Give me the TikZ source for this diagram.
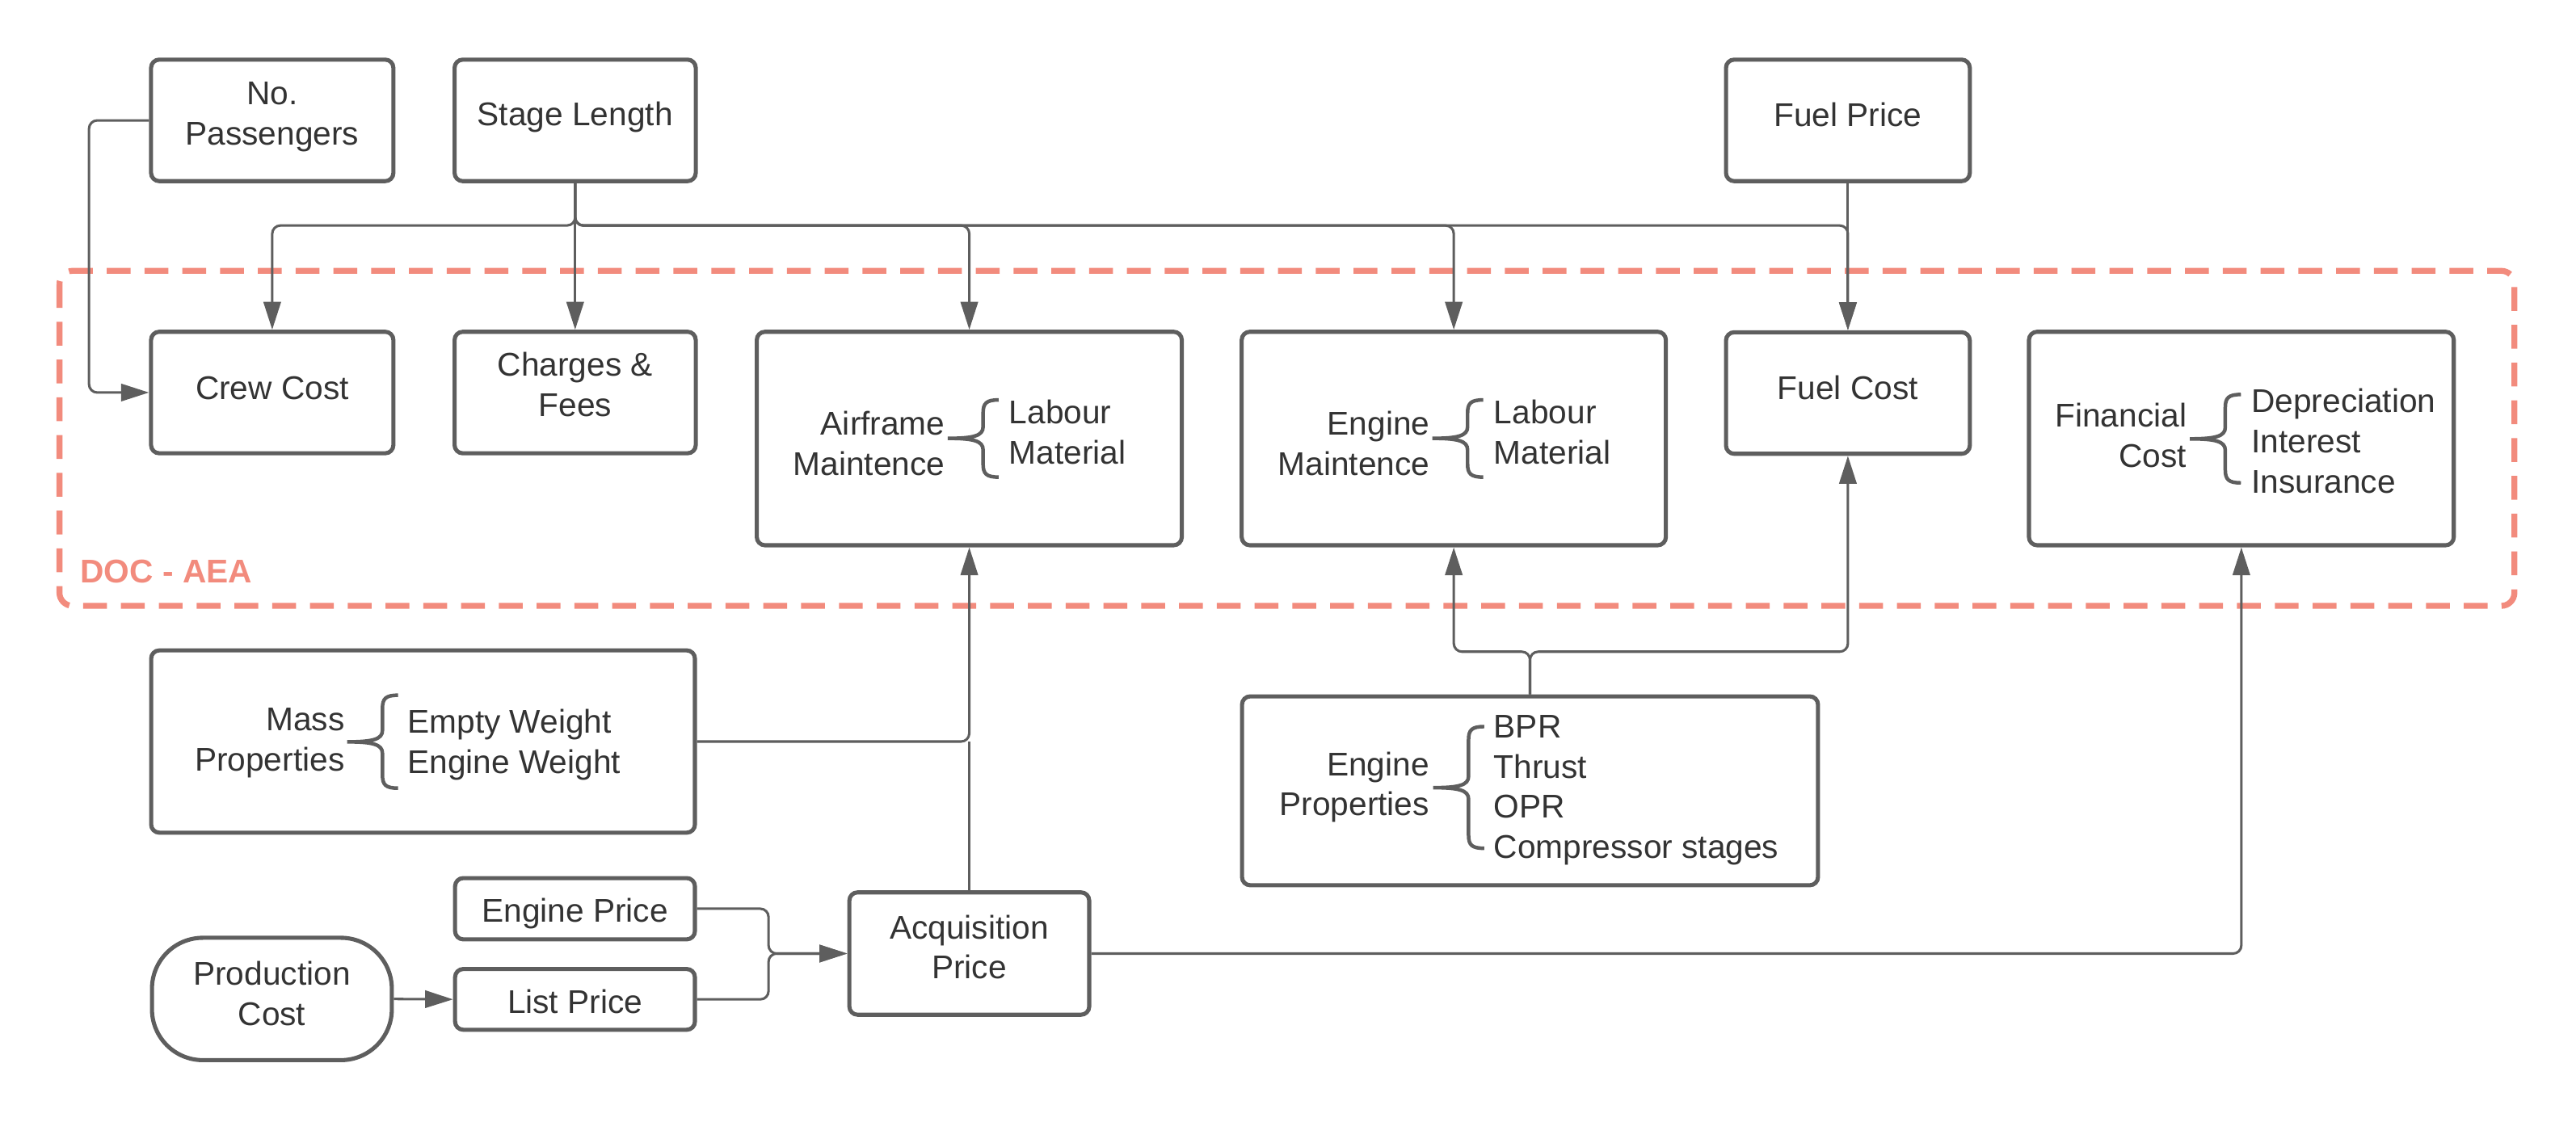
\documentclass[tikz,border=0pt]{standalone}
\usepackage{fontspec}
\setmainfont{Liberation Sans}
\usetikzlibrary{arrows.meta}
\definecolor{lc}{RGB}{94,94,94}
\definecolor{tc}{RGB}{51,51,51}
\definecolor{sal}{RGB}{242,139,125}

\newcommand\twol[2]{\vtop{\baselineskip=24.5pt\lineskiplimit=-100pt\halign{\hfil##\hfil\cr#1\cr#2\cr}}}
\newcommand\stR[1]{\vtop{\baselineskip=24.5pt\lineskiplimit=-100pt\halign{\hfil##\cr#1\crcr}}}
\newcommand\stL[1]{\vtop{\baselineskip=24.5pt\lineskiplimit=-100pt\halign{##\hfil\cr#1\crcr}}}
% curly brace: #1 x of ends, #2 top y, #3 tip y, #4 bottom y
\newcommand\cbrace[4]{%
  \draw[bracel] (#1,#2) .. controls (#1-7.5,#2) and (#1-9.5,#2+2) .. (#1-9.5,#2+8)
    -- (#1-9.5,#3-7) .. controls (#1-9.5,#3-1.5) and (#1-15.5,#3) .. (#1-31,#3)
    .. controls (#1-15.5,#3) and (#1-9.5,#3+1.5) .. (#1-9.5,#3+7)
    -- (#1-9.5,#4-8) .. controls (#1-9.5,#4-2) and (#1-7.5,#4) .. (#1,#4);}

\tikzset{
  box/.style={draw=lc, line width=2.5pt, rounded corners=5pt, inner sep=0pt,
    text=tc, font=\fontsize{20}{24.5}\selectfont},
  lbl/.style={inner sep=0pt, text=tc, font=\fontsize{20}{24.5}\selectfont,
    text height=0pt, text depth=0pt},
  conn/.style={draw=lc, line width=1.5pt, rounded corners=5pt,
    -{Triangle[length=17pt,width=10.5pt]}},
  plainln/.style={draw=lc, line width=1.5pt, rounded corners=5pt},
  bracel/.style={draw=lc, line width=2.2pt},
  docbox/.style={draw=sal, line width=3.6pt, rounded corners=8pt,
    dash pattern=on 14.5pt off 8.5pt},
}

\begin{document}
\begin{tikzpicture}[x=1pt,y=-1pt]
\useasboundingbox (0,0) rectangle (1568,683);

% DOC - AEA region
\draw[docbox] (36.2,164.9) rectangle (1530.5,368.9);
\node[inner sep=0pt, anchor=base west, text=sal,
  font=\fontsize{20}{24}\selectfont\bfseries] (doc) at (48.8,354.9) {DOC - AEA};

% top row
\node[box, minimum width=147.5pt, minimum height=74pt, text height=0pt, text depth=19.2pt]
  (nopass) at (165.7,73.3) {\twol{No.}{Passengers}};
\node[box, minimum width=146.8pt, minimum height=74pt, text height=6.8pt, text depth=0pt]
  (stage) at (350.1,73.3) {Stage Length};
\node[box, minimum width=148.4pt, minimum height=74pt, text height=7.4pt, text depth=0pt]
  (fuelp) at (1124.8,73.3) {Fuel Price};

% cost row
\node[box, minimum width=147.5pt, minimum height=74pt, text height=8.2pt, text depth=0pt]
  (crew) at (165.7,239) {Crew Cost};
\node[box, minimum width=146.8pt, minimum height=74pt, text height=0pt, text depth=20pt]
  (charges) at (350.1,239) {\twol{Charges \&}{Fees}};
\node[box, minimum width=258.7pt, minimum height=130pt] (air) at (590,267) {};
\node[box, minimum width=258.2pt, minimum height=130pt] (engm) at (884.9,267) {};
\node[box, minimum width=148.4pt, minimum height=74pt, text height=7.8pt, text depth=0pt]
  (fuelc) at (1124.8,239.3) {Fuel Cost};
\node[box, minimum width=258.6pt, minimum height=130pt] (fin) at (1364.3,267) {};

% brace contents
\node[lbl, anchor=east] (airL) at (575.4,264.8) {\stR{Airframe\cr Maintence}};
\node[lbl, anchor=west] (airR) at (614,258.2) {\stL{Labour\cr Material}};
\cbrace{607.9}{243.5}{266.9}{290.5}
\node[lbl, anchor=east] (engmL) at (870.5,264.8) {\stR{Engine\cr Maintence}};
\node[lbl, anchor=west] (engmR) at (909.2,258.2) {\stL{Labour\cr Material}};
\cbrace{902.8}{243.5}{266.9}{290.5}
\node[lbl, anchor=east] (finL) at (1331.2,259.9) {\stR{Financial\cr Cost}};
\node[lbl, anchor=west] (finR) at (1370.2,251.3) {\stL{Depreciation\cr Interest\cr Insurance}};
\cbrace{1364}{240.2}{267.2}{294}

% lower boxes
\node[box, minimum width=331pt, minimum height=111pt] (mass) at (257.5,451.5) {};
\node[lbl, anchor=east] (massL) at (209.9,445.1) {\stR{Mass\cr Properties}};
\node[lbl, anchor=west] (massR) at (247.9,446.3) {\stL{Empty Weight\cr Engine Weight}};
\cbrace{242.3}{423.3}{451.7}{479.9}

\node[box, minimum width=350.6pt, minimum height=115pt] (engprop) at (931.3,481.5) {};
\node[lbl, anchor=east] (epL) at (870.2,472.2) {\stR{Engine\cr Properties}};
\node[lbl, anchor=west] (epR) at (909.1,449.2) {\stL{BPR\cr Thrust\cr OPR\cr Compressor stages}};
\cbrace{903.4}{442.4}{479.6}{516.5}

\node[box, minimum width=146pt, minimum height=37.3pt, text height=16.2pt, text depth=0pt]
  (engp) at (350,553.3) {Engine Price};
\node[box, minimum width=146pt, minimum height=37pt, text height=17pt, text depth=0pt]
  (list) at (350,608.5) {List Price};
\node[box, rounded corners=31pt, minimum width=146pt, minimum height=74.5pt,
  text height=0pt, text depth=17pt]
  (prod) at (165.5,608.25) {\twol{Production}{Cost}};
\node[box, minimum width=146pt, minimum height=74.5pt, text height=0pt, text depth=18pt]
  (acq) at (590,580.6) {\twol{Acquisition}{Price}};

% junction points
\coordinate (bus) at (350.1,137.3);
\coordinate (ebus) at (931.3,396.8);
\coordinate (pbus) at (467.8,580.6);

% connectors
\draw[conn] (stage.south) -- (charges.north);
\draw[conn] (stage.south) -- (bus) -| (crew.north);
\draw[conn] (stage.south) -- (bus) -| (air.north);
\draw[conn] (stage.south) -- (bus) -| (engm.north);
\draw[conn] (stage.south) -- (bus) -| (fuelc.north);
\draw[conn] (fuelp.south) -- (fuelc.north);
\draw[conn] (nopass.west) -- ++(-36.5,0) |- (crew.west);
\draw[conn] (mass.east) -| (air.south);
\draw[plainln] (acq.north) -- (acq.north |- mass.east);
\draw[conn] (engprop.north) -- (ebus) -| (engm.south);
\draw[conn] (engprop.north) -- (ebus) -| (fuelc.south);
\draw[conn] (engp.east) -| (pbus) -- (acq.west);
\draw[conn] (list.east) -| (pbus) -- (acq.west);
\draw[conn] (prod.east) -- (list.west);
\draw[conn] (acq.east) -| (fin.south);
\end{tikzpicture}
\end{document}
